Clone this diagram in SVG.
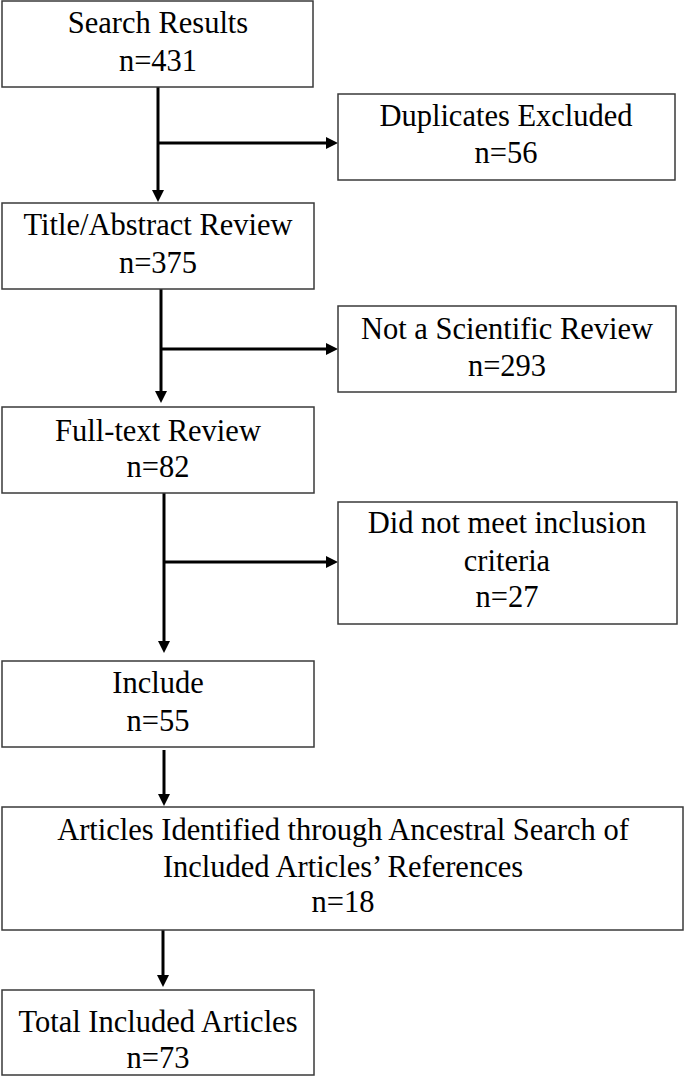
<svg xmlns="http://www.w3.org/2000/svg" width="685" height="1079" viewBox="0 0 685 1079">
<defs>
<style>
.box{fill:#fff;stroke:#3a3a3a;stroke-width:1.5}
.t{font-family:'Liberation Serif','Times New Roman',Times,serif;font-size:30.5px;fill:#000;text-anchor:middle}
.c{stroke:#000;stroke-width:3;fill:none}
</style>
<marker id="ah" viewBox="0 0 12 12" refX="4" refY="6" markerWidth="12" markerHeight="12" markerUnits="userSpaceOnUse" orient="auto">
<path d="M0,0 L12,6 L0,12 z" fill="#000"/>
</marker>
</defs>
<rect width="685" height="1079" fill="#fff"/>
<g id="connectors">
<path class="c" d="M158,87 V194" marker-end="url(#ah)"/>
<path class="c" d="M158,143 H330" marker-end="url(#ah)"/>
<path class="c" d="M161,289 V395" marker-end="url(#ah)"/>
<path class="c" d="M161,349 H330" marker-end="url(#ah)"/>
<path class="c" d="M164,493 V645" marker-end="url(#ah)"/>
<path class="c" d="M164,562 H330" marker-end="url(#ah)"/>
<path class="c" d="M164,750 V798" marker-end="url(#ah)"/>
<path class="c" d="M163,930 V979" marker-end="url(#ah)"/>
</g>
<g id="search">
<rect class="box" x="2" y="1" width="311" height="86"/>
<text class="t" x="158" y="33">Search Results</text>
<text class="t" x="158" y="71">n=431</text>
</g>
<g id="duplicates">
<rect class="box" x="338" y="94" width="337" height="86"/>
<text class="t" x="506" y="126">Duplicates Excluded</text>
<text class="t" x="506" y="163">n=56</text>
</g>
<g id="title-abstract">
<rect class="box" x="2" y="203" width="312" height="86"/>
<text class="t" x="158" y="235">Title/Abstract Review</text>
<text class="t" x="158" y="273">n=375</text>
</g>
<g id="not-scientific">
<rect class="box" x="338" y="306" width="338" height="86"/>
<text class="t" x="507" y="339">Not a Scientific Review</text>
<text class="t" x="507" y="376">n=293</text>
</g>
<g id="full-text">
<rect class="box" x="2" y="407" width="312" height="86"/>
<text class="t" x="158" y="441">Full-text Review</text>
<text class="t" x="158" y="477">n=82</text>
</g>
<g id="not-meet">
<rect class="box" x="338" y="502" width="339" height="122"/>
<text class="t" x="507" y="533">Did not meet inclusion</text>
<text class="t" x="507" y="571">criteria</text>
<text class="t" x="507" y="607">n=27</text>
</g>
<g id="include">
<rect class="box" x="2" y="661" width="312" height="86"/>
<text class="t" x="158" y="693">Include</text>
<text class="t" x="158" y="731">n=55</text>
</g>
<g id="ancestral">
<rect class="box" x="2" y="807" width="681" height="123"/>
<text class="t" x="343" y="840">Articles Identified through Ancestral Search of</text>
<text class="t" x="343" y="877">Included Articles’ References</text>
<text class="t" x="343" y="912">n=18</text>
</g>
<g id="total">
<rect class="box" x="2" y="990" width="312" height="85"/>
<text class="t" x="158" y="1032">Total Included Articles</text>
<text class="t" x="158" y="1068">n=73</text>
</g>
</svg>
